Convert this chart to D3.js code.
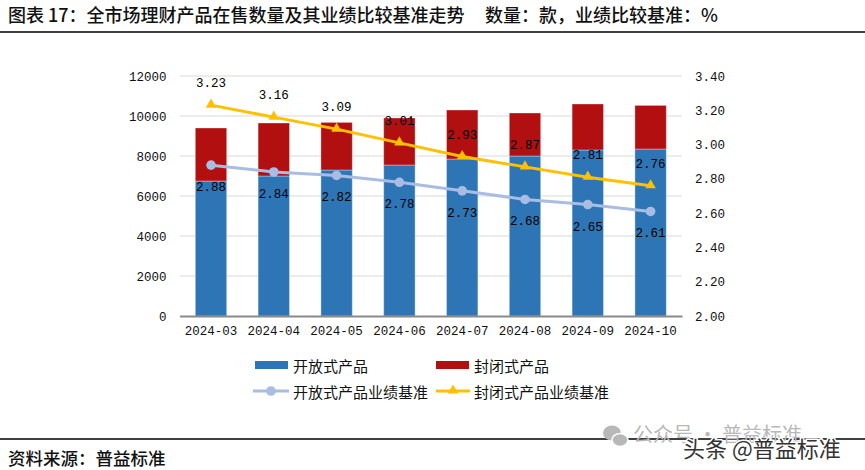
<!DOCTYPE html>
<html>
<head>
<meta charset="utf-8">
<script src="https://cdn.jsdelivr.net/npm/d3@7"></script>
<style>
  html, body { margin: 0; padding: 0; background: #fff; }
  svg { display: block; }
</style>
</head>
<body>
<svg id="chart" width="865" height="470"></svg>
<script>
// ---- data ----
const months = ["2024-03","2024-04","2024-05","2024-06","2024-07","2024-08","2024-09","2024-10"];
const openCount   = [6750, 7000, 7300, 7550, 7850, 8000, 8300, 8350];
const closedCount = [2650, 2650, 2380, 2350, 2450, 2150, 2300, 2180];
const openRate    = [2.88, 2.84, 2.82, 2.78, 2.73, 2.68, 2.65, 2.61];
const closedRate  = [3.23, 3.16, 3.09, 3.01, 2.93, 2.87, 2.81, 2.76];
const leftTicks   = [0, 2000, 4000, 6000, 8000, 10000, 12000];
const rightTicks  = [2.0, 2.2, 2.4, 2.6, 2.8, 3.0, 3.2, 3.4];
const seriesNames = ["开放式产品", "封闭式产品", "开放式产品业绩基准", "封闭式产品业绩基准"];
const titleText   = "图表 17：全市场理财产品在售数量及其业绩比较基准走势";
const unitText    = "数量：款，业绩比较基准：%";
const sourceText  = "资料来源：普益标准";

const C_OPEN = "#2E75B6", C_CLOSED = "#B10F10", C_OPENR = "#A9BCE2", C_CLOSEDR = "#FFC000";
const NUMFONT = "'Liberation Mono', 'DejaVu Sans Mono', monospace";
const CJK = "'Noto Sans CJK SC', sans-serif";

const svg = d3.select("#chart");

// title & rules
svg.append("text").attr("x", 8).attr("y", 14).attr("dominant-baseline", "central")
  .attr("font-family", CJK).attr("font-size", 18).attr("font-weight", 500).attr("fill", "#111")
  .text(titleText);
svg.append("text").attr("x", 718).attr("y", 14).attr("dominant-baseline", "central")
  .attr("text-anchor", "end")
  .attr("font-family", CJK).attr("font-size", 18).attr("font-weight", 500).attr("fill", "#111")
  .text(unitText);
svg.append("line").attr("x1", 0).attr("x2", 865).attr("y1", 32).attr("y2", 32)
  .attr("stroke", "#000").attr("stroke-width", 1.5);

// scales
const x = d3.scaleBand().domain(months).range([179.6, 682]).paddingInner(0.5).paddingOuter(0.25);
const yL = d3.scaleLinear().domain([0, 12000]).range([316, 76]);
const yR = d3.scaleLinear().domain([2.0, 3.4]).range([316, 76]);

// gridlines
svg.append("g").selectAll("line").data(leftTicks.filter(d => d > 0)).join("line")
  .attr("x1", 179.6).attr("x2", 682).attr("y1", d => yL(d)).attr("y2", d => yL(d))
  .attr("stroke", "#D9D9D9").attr("stroke-width", 1);

// axes
const axL = svg.append("g").attr("transform", "translate(179.6,0)")
  .call(d3.axisLeft(yL).tickValues(leftTicks).tickSize(0).tickPadding(13).tickFormat(d3.format("d")));
axL.select(".domain").remove();
axL.selectAll("text").attr("font-family", NUMFONT).attr("font-size", 12.5).attr("fill", "#111");

const axR = svg.append("g").attr("transform", "translate(682,0)")
  .call(d3.axisRight(yR).tickValues(rightTicks).tickSize(0).tickPadding(13).tickFormat(d3.format(".2f")));
axR.select(".domain").remove();
axR.selectAll("text").attr("font-family", NUMFONT).attr("font-size", 12.5).attr("fill", "#111");

// bars
const bars = svg.append("g");
bars.selectAll("rect.open").data(months).join("rect").attr("class", "open")
  .attr("x", d => x(d)).attr("width", x.bandwidth())
  .attr("y", (d, i) => yL(openCount[i])).attr("height", (d, i) => yL(0) - yL(openCount[i]))
  .attr("fill", C_OPEN).attr("stroke", "rgba(255,255,255,0.35)").attr("stroke-width", 1);
bars.selectAll("rect.closed").data(months).join("rect").attr("class", "closed")
  .attr("x", d => x(d)).attr("width", x.bandwidth())
  .attr("y", (d, i) => yL(openCount[i] + closedCount[i]))
  .attr("height", (d, i) => yL(openCount[i]) - yL(openCount[i] + closedCount[i]))
  .attr("fill", C_CLOSED).attr("stroke", "rgba(255,255,255,0.35)").attr("stroke-width", 1);

// x axis
const axX = svg.append("g").attr("transform", "translate(0,316)")
  .call(d3.axisBottom(x).tickSize(0).tickPadding(10));
axX.select(".domain").attr("stroke", "#898989").attr("stroke-width", 2);
axX.selectAll("text").attr("font-family", NUMFONT).attr("font-size", 12.5).attr("fill", "#111");

const cx = d => x(d) + x.bandwidth() / 2;

// lines
const lineOpen = d3.line().x((d, i) => cx(months[i])).y(d => yR(d));
svg.append("path").datum(openRate).attr("d", lineOpen)
  .attr("fill", "none").attr("stroke", C_OPENR).attr("stroke-width", 3);
svg.append("g").selectAll("circle").data(openRate).join("circle")
  .attr("cx", (d, i) => cx(months[i])).attr("cy", d => yR(d)).attr("r", 4.8)
  .attr("fill", C_OPENR);

svg.append("path").datum(closedRate).attr("d", lineOpen)
  .attr("fill", "none").attr("stroke", C_CLOSEDR).attr("stroke-width", 3);
const tri = d3.symbol().type(d3.symbolTriangle).size(48);
svg.append("g").selectAll("path").data(closedRate).join("path")
  .attr("d", tri).attr("transform", (d, i) => `translate(${cx(months[i])},${yR(d) - 0.5})`)
  .attr("fill", C_CLOSEDR);

// data labels
svg.append("g").selectAll("text").data(closedRate).join("text")
  .attr("x", (d, i) => cx(months[i])).attr("y", d => yR(d) - 21)
  .attr("text-anchor", "middle").attr("dominant-baseline", "central")
  .attr("font-family", NUMFONT).attr("font-size", 12.5).attr("fill", "#000")
  .text(d => d3.format(".2f")(d));
svg.append("g").selectAll("text").data(openRate).join("text")
  .attr("x", (d, i) => cx(months[i])).attr("y", d => yR(d) + 23)
  .attr("text-anchor", "middle").attr("dominant-baseline", "central")
  .attr("font-family", NUMFONT).attr("font-size", 12.5).attr("fill", "#000")
  .text(d => d3.format(".2f")(d));

// legend
const lg = svg.append("g").attr("font-family", CJK).attr("font-size", 15).attr("fill", "#111");
const legendPos = [[255, 365], [436, 365], [255, 391], [436, 391]];
[0, 1].forEach(k => {
  const [lx, ly] = legendPos[k];
  lg.append("rect").attr("x", lx).attr("y", ly - 4).attr("width", 33).attr("height", 8)
    .attr("fill", k === 0 ? C_OPEN : C_CLOSED);
});
{
  const [lx, ly] = legendPos[2];
  lg.append("line").attr("x1", lx - 2).attr("x2", lx + 34).attr("y1", ly).attr("y2", ly)
    .attr("stroke", C_OPENR).attr("stroke-width", 3);
  lg.append("circle").attr("cx", lx + 16).attr("cy", ly).attr("r", 4.8).attr("fill", C_OPENR);
  const [mx, my] = legendPos[3];
  lg.append("line").attr("x1", mx).attr("x2", mx + 34).attr("y1", my).attr("y2", my)
    .attr("stroke", C_CLOSEDR).attr("stroke-width", 3);
  lg.append("path").attr("d", tri).attr("transform", `translate(${mx + 17},${my - 0.5})`).attr("fill", C_CLOSEDR);
}
seriesNames.forEach((name, k) => {
  const [lx, ly] = legendPos[k];
  lg.append("text").attr("x", lx + 38).attr("y", ly).attr("dominant-baseline", "central").text(name);
});

// footer
svg.append("line").attr("x1", 0).attr("x2", 865).attr("y1", 439).attr("y2", 439)
  .attr("stroke", "#000").attr("stroke-width", 1.5);
svg.append("text").attr("x", 8).attr("y", 457).attr("dominant-baseline", "central")
  .attr("font-family", CJK).attr("font-size", 17.5).attr("font-weight", 500).attr("fill", "#111")
  .text(sourceText);

// watermarks
const wm = svg.append("g");
wm.append("ellipse").attr("cx", 612).attr("cy", 433).attr("rx", 9).attr("ry", 7.5).attr("fill", "#b8b8b8");
wm.append("ellipse").attr("cx", 620).attr("cy", 440).attr("rx", 8).attr("ry", 6.5).attr("fill", "#b8b8b8")
  .attr("stroke", "#fff").attr("stroke-width", 1.5);
wm.append("text").attr("x", 633).attr("y", 433).attr("dominant-baseline", "central")
  .attr("font-family", CJK).attr("font-size", 20).attr("fill", "#b8b8b8").text("公众号 · 普益标准");
wm.append("text").attr("x", 683).attr("y", 447).attr("dominant-baseline", "central")
  .attr("font-family", CJK).attr("font-size", 22).attr("fill", "#333")
  .attr("stroke", "#fff").attr("stroke-width", 3).attr("paint-order", "stroke")
  .text("头条 @普益标准");
</script>
</body>
</html>
